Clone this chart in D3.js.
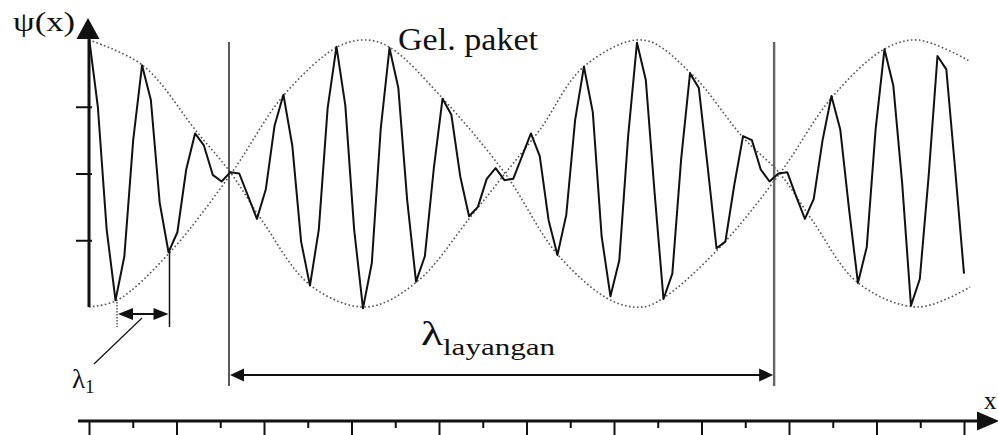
<!DOCTYPE html>
<html>
<head>
<meta charset="utf-8">
<script src="https://cdn.jsdelivr.net/npm/d3@7"></script>
<style>
  body { margin: 0; background: #fff; }
  svg { display: block; font-family: "Liberation Serif", "Times New Roman", serif; }
</style>
</head>
<body>
<svg id="chart"></svg>
<script>
// wave samples (equally spaced along x)
const psi = [
   1.02,  0.50, -0.42, -0.95, -0.62,  0.25,  0.81,  0.55, -0.22, -0.59,
  -0.44,  0.03,  0.30,  0.21, -0.01, -0.06,  0.01,  0.00, -0.17, -0.34,
  -0.12,  0.36,  0.59,  0.21, -0.51, -0.84, -0.42,  0.49,  0.95,  0.51,
  -0.42, -1.01, -0.67,  0.33,  0.94,  0.64, -0.20, -0.81, -0.62,  0.03,
   0.56,  0.44, -0.02, -0.32, -0.25, -0.04,  0.04, -0.05, -0.04,  0.13,
   0.30,  0.13, -0.35, -0.61, -0.31,  0.40,  0.80,  0.46, -0.47, -0.92,
  -0.65,  0.28,  0.98,  0.70, -0.15, -0.94, -0.75,  0.11,  0.75,  0.64,
   0.05, -0.56, -0.51, -0.09,  0.28,  0.25,  0.03, -0.06,  0.00,  0.01,
  -0.17, -0.34, -0.19,  0.25,  0.58,  0.33, -0.27, -0.82, -0.55,  0.33,
   0.93,  0.66, -0.07, -0.99, -0.79, -0.02,  0.88,  0.78,  0.03, -0.75
];

// dotted envelopes [x, psi]
const envA = [[0, 1.0], [1.23, 0.81], [2.47, 0.31], [3.25, 0.0], [3.95, -0.35], [5.07, -0.84],
  [6.35, -1.0], [7.5, -0.81], [8.71, -0.33], [9.51, 0.0], [10.31, 0.33], [11.31, 0.8],
  [12.66, 1.0], [13.76, 0.75], [14.95, 0.27], [15.79, 0.0], [16.53, -0.35], [17.58, -0.82],
  [18.95, -1.0], [20.14, -0.85]];
const envB = [[0, -1.0], [0.64, -0.95], [1.85, -0.59], [3.25, 0.0], [4.46, 0.59], [5.69, 0.95],
  [6.35, 1.0], [6.9, 0.94], [8.09, 0.56], [9.51, 0.0], [10.72, -0.61], [11.93, -0.95],
  [12.66, -1.0], [13.14, -0.93], [14.37, -0.57], [15.79, 0.0], [16.98, 0.57], [18.17, 0.93],
  [18.95, 1.0], [20.14, 0.84]];

const xTicks = d3.range(0, 21);
const yTicks = [-0.5, 0, 0.5];
const beatLines = [3.2, 15.66];     // λ layangan
const lambda1 = [0.64, 1.84];       // λ1

const width = 998, height = 435;
const svg = d3.select("#chart")
    .attr("width", width)
    .attr("height", height)
    .attr("viewBox", [0, 0, width, height]);

const x = d3.scaleLinear().domain([0, 20]).range([89, 964]);
const y = d3.scaleLinear().domain([-1, 1]).range([307, 40]);

const axisY = 421;

// arrow head helper
function arrowHead(tx, ty, dir, len, half) {
  // dir: "l", "r", "u"
  if (dir === "r") return `M${tx},${ty}L${tx - len},${ty - half}L${tx - len},${ty + half}Z`;
  if (dir === "l") return `M${tx},${ty}L${tx + len},${ty - half}L${tx + len},${ty + half}Z`;
  return `M${tx},${ty}L${tx - half},${ty + len}L${tx + half},${ty + len}Z`;
}

// envelopes
const envLine = d3.line()
    .x(d => x(d[0]))
    .y(d => y(d[1]))
    .curve(d3.curveCatmullRom.alpha(0.5));

svg.selectAll(".env")
  .data([envA, envB])
  .join("path")
    .attr("class", "env")
    .attr("d", envLine)
    .attr("fill", "none")
    .attr("stroke", "#555")
    .attr("stroke-width", 1.6)
    .attr("stroke-dasharray", "1.6,2.4");

// vertical beat markers
svg.selectAll(".beat")
  .data(beatLines)
  .join("line")
    .attr("class", "beat")
    .attr("x1", d => x(d))
    .attr("x2", d => x(d))
    .attr("y1", 42)
    .attr("y2", 386)
    .attr("stroke", (d, i) => i ? "#666" : "#222")
    .attr("stroke-width", (d, i) => i ? 2.4 : 1.5);

// wave
const wave = d3.line()
    .x((d, i) => x(i * 20 / (psi.length - 1)))
    .y(d => y(d));

svg.append("path")
    .attr("d", wave(psi))
    .attr("fill", "none")
    .attr("stroke", "#111")
    .attr("stroke-width", 2)
    .attr("stroke-linejoin", "round");

// y axis
svg.append("g")
    .attr("transform", `translate(${x(0)},0)`)
    .call(d3.axisLeft(y).tickValues(yTicks).tickSize(13).tickFormat(""))
    .call(g => {
      g.select(".domain").remove();
      g.selectAll(".tick line").attr("stroke", "#111").attr("stroke-width", 2).attr("x1", 3);
    });

svg.append("line")
    .attr("x1", x(0)).attr("x2", x(0))
    .attr("y1", y(-1)).attr("y2", 36)
    .attr("stroke", "#111")
    .attr("stroke-width", 3);

svg.append("path")
    .attr("d", arrowHead(x(0) - 1, 18, "u", 21, 11.5))
    .attr("fill", "#111");

// x axis
svg.append("g")
    .attr("transform", `translate(0,${axisY})`)
    .call(d3.axisBottom(x).tickValues(xTicks).tickSize(14).tickFormat(""))
    .call(g => {
      g.select(".domain").remove();
      g.selectAll(".tick line")
        .attr("stroke", "#111")
        .attr("stroke-width", 2)
        .attr("y2", d => d % 2 ? 7 : 14);
    });

svg.append("line")
    .attr("x1", 78).attr("x2", 980)
    .attr("y1", axisY).attr("y2", axisY)
    .attr("stroke", "#111")
    .attr("stroke-width", 3);

svg.append("path")
    .attr("d", arrowHead(999, axisY, "r", 22, 9.5))
    .attr("fill", "#111");

// λ1 dimension
svg.append("line")
    .attr("x1", x(lambda1[0])).attr("x2", x(lambda1[0]))
    .attr("y1", 302).attr("y2", 327)
    .attr("stroke", "#555").attr("stroke-width", 1.5)
    .attr("stroke-dasharray", "1.5,1.5");
svg.append("line")
    .attr("x1", x(lambda1[1])).attr("x2", x(lambda1[1]))
    .attr("y1", 251).attr("y2", 327)
    .attr("stroke", "#111").attr("stroke-width", 1.5);
svg.append("line")
    .attr("x1", x(lambda1[0]) + 10).attr("x2", x(lambda1[1]) - 10)
    .attr("y1", 314).attr("y2", 314)
    .attr("stroke", "#111").attr("stroke-width", 2);
svg.append("path")
    .attr("d", arrowHead(x(lambda1[0]) + 1, 314, "l", 15, 6) + arrowHead(x(lambda1[1]) - 1, 314, "r", 15, 6))
    .attr("fill", "#111");

svg.append("line")
    .attr("x1", 142).attr("y1", 318)
    .attr("x2", 94).attr("y2", 364)
    .attr("stroke", "#111").attr("stroke-width", 1.2);

// λ layangan dimension
svg.append("line")
    .attr("x1", x(beatLines[0]) + 8).attr("x2", x(beatLines[1]) - 8)
    .attr("y1", 375).attr("y2", 375)
    .attr("stroke", "#111").attr("stroke-width", 2);
svg.append("path")
    .attr("d", arrowHead(x(beatLines[0]) + 1, 375, "l", 14, 6.5) + arrowHead(x(beatLines[1]) - 1, 375, "r", 14, 6.5))
    .attr("fill", "#111");

// labels
svg.append("text")
    .attr("x", 13).attr("y", 31)
    .attr("font-size", 28)
    .attr("textLength", 62).attr("lengthAdjust", "spacingAndGlyphs")
    .attr("fill", "#111")
    .text("ψ(x)");

svg.append("text")
    .attr("x", 398).attr("y", 50)
    .attr("font-size", 31)
    .attr("textLength", 140).attr("lengthAdjust", "spacingAndGlyphs")
    .attr("fill", "#111")
    .text("Gel. paket");

svg.append("text")
    .attr("x", 421).attr("y", 345)
    .attr("font-size", 33)
    .attr("textLength", 22).attr("lengthAdjust", "spacingAndGlyphs")
    .attr("fill", "#111")
    .text("λ");
svg.append("text")
    .attr("x", 443).attr("y", 355)
    .attr("font-size", 23)
    .attr("textLength", 112).attr("lengthAdjust", "spacingAndGlyphs")
    .attr("fill", "#111")
    .text("layangan");

const lam1 = svg.append("text")
    .attr("x", 72).attr("y", 388)
    .attr("fill", "#111");
lam1.append("tspan").attr("font-size", 27).text("λ");
lam1.append("tspan").attr("font-size", 19).attr("dy", 5).text("1");

svg.append("text")
    .attr("x", 984).attr("y", 409)
    .attr("font-size", 25)
    .attr("fill", "#111")
    .text("x");
</script>
</body>
</html>
